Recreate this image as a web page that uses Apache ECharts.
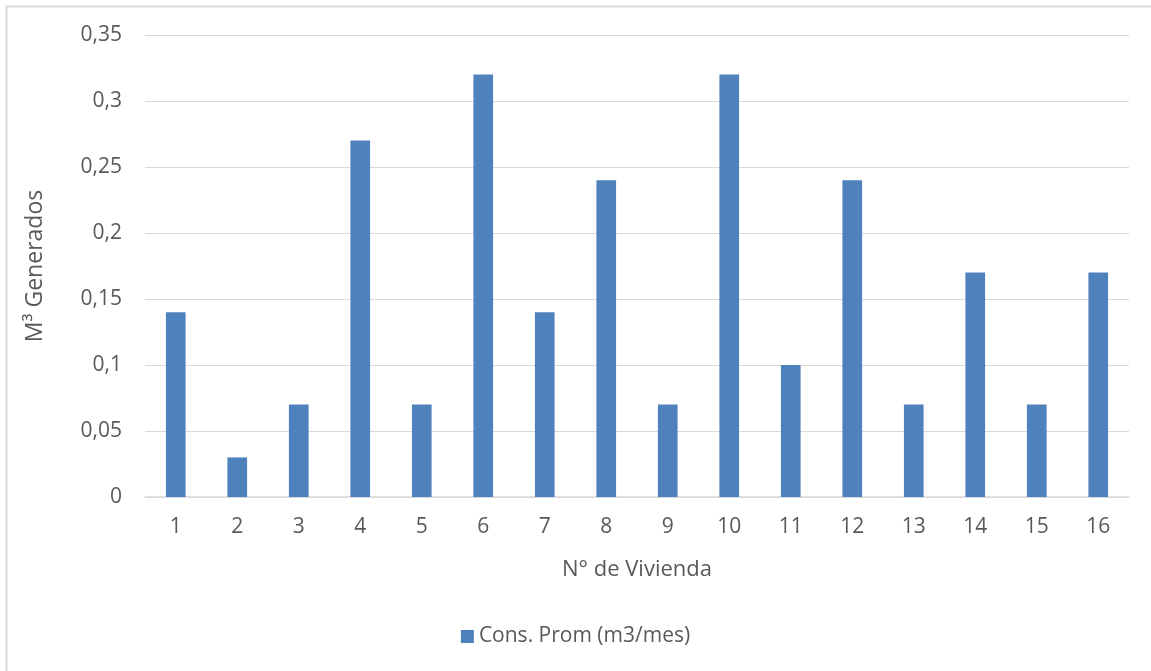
<!DOCTYPE html>
<html><head><meta charset="utf-8">
<script src="https://cdn.jsdelivr.net/npm/echarts@6/dist/echarts.min.js"></script>
<style>html,body{margin:0;padding:0;background:#fff}#c{width:1151px;height:671px}</style>
</head><body><div id="c"></div>
<script>
const categories = ['1','2','3','4','5','6','7','8','9','10','11','12','13','14','15','16'];
const consProm = [0.14,0.03,0.07,0.27,0.07,0.32,0.14,0.24,0.07,0.32,0.10,0.24,0.07,0.17,0.07,0.17];
const seriesName = 'Cons. Prom (m3/mes)';
const xTitle = 'N° de Vivienda';
const yTitle = 'M³ Generados';

const font = 'Open Sans, Lato, Liberation Sans, sans-serif';
const chart = echarts.init(document.getElementById('c'));
chart.setOption({
  animation: false,
  textStyle: {fontFamily: font},
  graphic: [
    {type: 'line', shape: {x1: 6.5, y1: 6, x2: 6.5, y2: 671}, style: {stroke: '#d9d9d9', lineWidth: 2}},
    {type: 'line', shape: {x1: 6, y1: 6.5, x2: 1151, y2: 6.5}, style: {stroke: '#d9d9d9', lineWidth: 2}}
  ],
  grid: {left: 145, right: 22, top: 35, bottom: 174, containLabel: false},
  legend: {
    bottom: 19, left: 'center',
    itemWidth: 13, itemHeight: 13, itemGap: 6,
    textStyle: {fontSize: 21, color: '#595959', fontFamily: font},
    data: [{name: seriesName, icon: 'rect'}]
  },
  xAxis: {
    type: 'category', data: categories,
    name: xTitle, nameLocation: 'middle', nameGap: 62,
    nameTextStyle: {fontSize: 22, color: '#595959'},
    axisLine: {lineStyle: {color: '#d9d9d9', width: 1.5}},
    axisTick: {show: false},
    axisLabel: {fontSize: 21, color: '#595959', margin: 20}
  },
  yAxis: {
    type: 'value', min: 0, max: 0.35, interval: 0.05,
    name: yTitle, nameLocation: 'middle', nameGap: 98, nameRotate: 90,
    nameTextStyle: {fontSize: 23, color: '#595959'},
    axisLine: {show: false}, axisTick: {show: false},
    splitLine: {lineStyle: {color: '#d9d9d9', width: 1}},
    axisLabel: {fontSize: 21, color: '#595959', margin: 23,
      formatter: v => String(+v.toFixed(2)).replace('.', ',')}
  },
  series: [{
    name: seriesName, type: 'bar', data: consProm,
    barWidth: '32%',
    itemStyle: {color: '#4f81bd'}
  }]
});
</script></body></html>
